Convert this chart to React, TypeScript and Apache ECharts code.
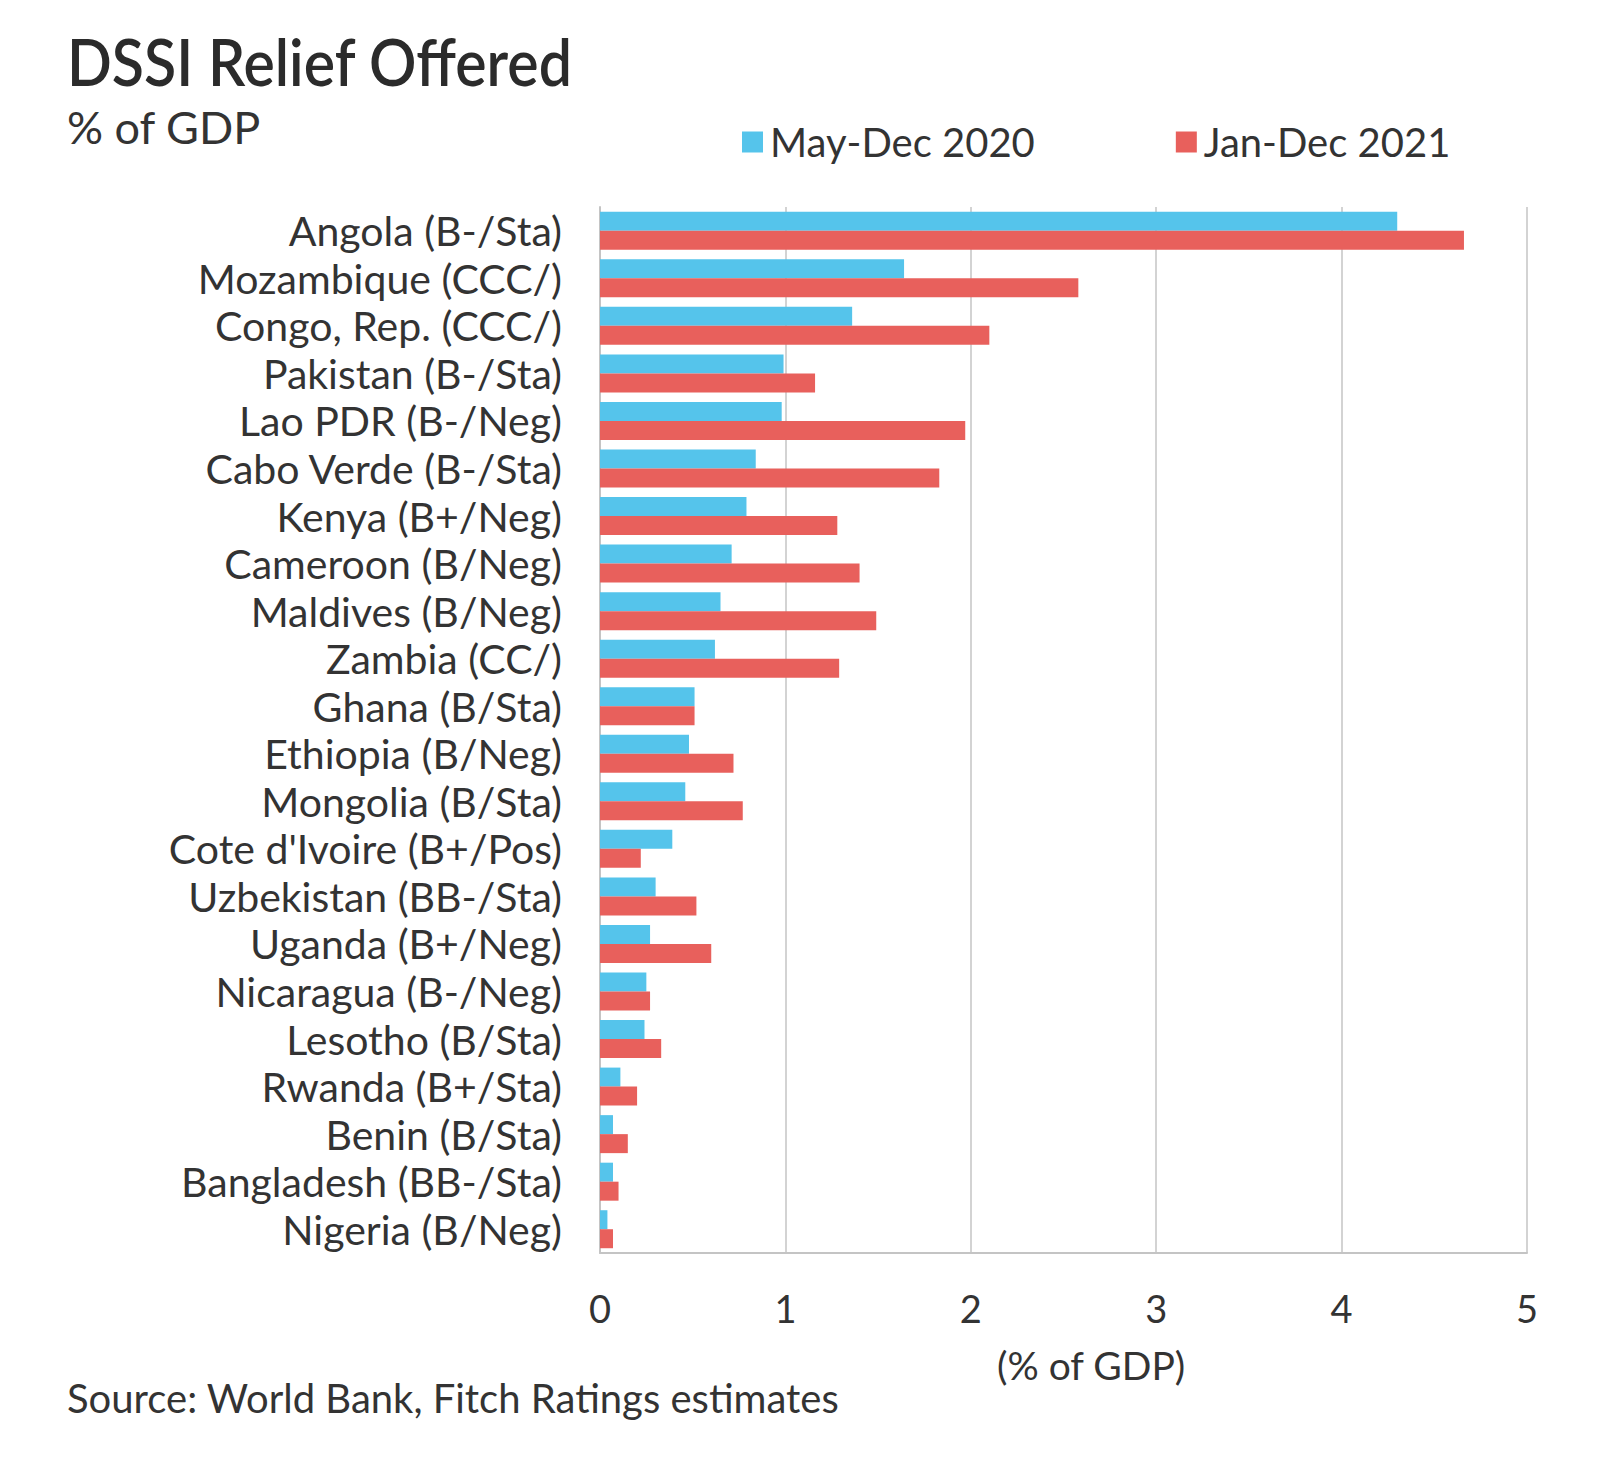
import React, { useEffect, useRef } from "react";
import * as echarts from "echarts";

const categories = [
  "Angola (B-/Sta)",
  "Mozambique (CCC/)",
  "Congo, Rep. (CCC/)",
  "Pakistan (B-/Sta)",
  "Lao PDR (B-/Neg)",
  "Cabo Verde (B-/Sta)",
  "Kenya (B+/Neg)",
  "Cameroon (B/Neg)",
  "Maldives (B/Neg)",
  "Zambia (CC/)",
  "Ghana (B/Sta)",
  "Ethiopia (B/Neg)",
  "Mongolia (B/Sta)",
  "Cote d'Ivoire (B+/Pos)",
  "Uzbekistan (BB-/Sta)",
  "Uganda (B+/Neg)",
  "Nicaragua (B-/Neg)",
  "Lesotho (B/Sta)",
  "Rwanda (B+/Sta)",
  "Benin (B/Sta)",
  "Bangladesh (BB-/Sta)",
  "Nigeria (B/Neg)",
];

const may2020 = [4.30, 1.64, 1.36, 0.99, 0.98, 0.84, 0.79, 0.71, 0.65, 0.62, 0.51, 0.48, 0.46, 0.39, 0.30, 0.27, 0.25, 0.24, 0.11, 0.07, 0.07, 0.04];
const jan2021 = [4.66, 2.58, 2.10, 1.16, 1.97, 1.83, 1.28, 1.40, 1.49, 1.29, 0.51, 0.72, 0.77, 0.22, 0.52, 0.60, 0.27, 0.33, 0.20, 0.15, 0.10, 0.07];

const seriesNames = ["May-Dec 2020", "Jan-Dec 2021"];
const xTicks = [0, 1, 2, 3, 4, 5];

const FONT = "Lato, 'Noto Sans', sans-serif";
const TEXT = "#333333";
const BLUE = "#55C4EB";
const RED = "#E8605C";

export default function App() {
  const ref = useRef<HTMLDivElement>(null);
  useEffect(() => {
    if (!ref.current) return;
    const chart = echarts.init(ref.current, null, { renderer: "svg" });
    chart.setOption({
      animation: false,
      backgroundColor: "#ffffff",
      textStyle: { fontFamily: FONT },
      graphic: [
        {
          type: "text",
          left: 67,
          top: 28,
          scaleY: 1.1,
          style: { text: "DSSI Relief Offered", font: `600 59px ${FONT}`, fill: "#2b2b2b" },
        },
        {
          type: "text",
          left: 67,
          top: 104,
          style: { text: "% of GDP", font: `45px ${FONT}`, fill: TEXT },
        },
        {
          type: "text",
          left: 997,
          top: 1345,
          style: { text: "(% of GDP)", font: `39px ${FONT}`, fill: TEXT },
        },
        {
          type: "text",
          left: 67,
          top: 1378,
          style: { text: "Source: World Bank, Fitch Ratings estimates", font: `40px ${FONT}`, fill: TEXT },
        },
      ],
      legend: {
        left: 737,
        top: 117,
        icon: "rect",
        itemWidth: 21,
        itemHeight: 21,
        itemGap: 141,
        textStyle: { fontSize: 40, color: TEXT, fontFamily: FONT, padding: [0, 0, 0, 2] },
        data: seriesNames,
      },
      grid: { left: 600, right: 73, top: 207, bottom: 210, containLabel: false },
      xAxis: {
        type: "value",
        min: xTicks[0],
        max: xTicks[xTicks.length - 1],
        interval: 1,
        axisLine: { show: true, lineStyle: { color: "#c4c4c4", width: 2 } },
        axisTick: { show: false },
        splitLine: { show: true, lineStyle: { color: "#c4c4c4", width: 1.5 } },
        axisLabel: { fontSize: 38, color: TEXT, margin: 36, fontFamily: FONT },
      },
      yAxis: {
        type: "category",
        inverse: true,
        data: categories,
        axisLine: { show: true, lineStyle: { color: "#c4c4c4", width: 2 } },
        axisTick: { show: false },
        axisLabel: { fontSize: 41, color: TEXT, margin: 38, fontFamily: FONT, interval: 0 },
      },
      series: [
        {
          name: seriesNames[0],
          type: "bar",
          data: may2020,
          itemStyle: { color: BLUE },
          barWidth: 19,
          barGap: "0%",
        },
        {
          name: seriesNames[1],
          type: "bar",
          data: jan2021,
          itemStyle: { color: RED },
          barWidth: 19,
          barGap: "0%",
        },
      ],
    });
    return () => chart.dispose();
  }, []);
  return (
    <div
      ref={ref}
      style={{ position: "absolute", left: 0, top: 0, width: 1600, height: 1463 }}
    />
  );
}
